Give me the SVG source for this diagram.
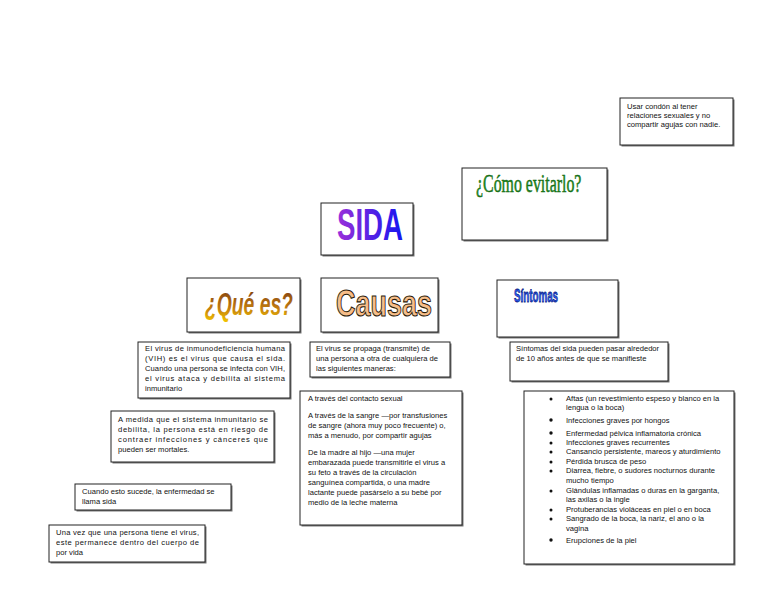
<svg xmlns="http://www.w3.org/2000/svg" width="768" height="594" viewBox="0 0 768 594">
<defs>
<linearGradient id="gSida" x1="0" y1="0" x2="1" y2="0"><stop offset="0" stop-color="#9b30d9"/><stop offset="1" stop-color="#1515f0"/></linearGradient>
<linearGradient id="gQue" x1="0" y1="0" x2="0" y2="1"><stop offset="0" stop-color="#7a3a10"/><stop offset="0.6" stop-color="#c07a10"/><stop offset="1" stop-color="#f0c000"/></linearGradient>
</defs>
<style>
.box{fill:#fff;stroke:#222;stroke-width:1}
.sh{fill:#777}
.t{font-family:"Liberation Sans",Arial,sans-serif;font-size:7.6px;fill:#111}
</style>
<rect width="768" height="594" fill="#fff"/>
<g id="connectors"/>
<g id="evitar-texto">
<rect class="sh" x="621.5" y="99.5" width="113" height="47"/>
<rect class="box" x="620" y="98" width="113" height="47"/>
<text class="t" x="627" y="109">Usar condón al tener</text>
<text class="t" x="627" y="118">relaciones sexuales y no</text>
<text class="t" x="627" y="127">compartir agujas con nadie.</text>
</g>
<g id="como-evitarlo">
<rect class="sh" x="463.5" y="169.5" width="145" height="72"/>
<rect class="box" x="462" y="168" width="145" height="72"/>
<text transform="translate(476,192) scale(1,1.57)" font-family="Liberation Serif,serif" font-size="15.9" fill="#1a8c1a" stroke="#0d5a0d" stroke-width="0.3">¿Cómo evitarlo?</text>
</g>
<g id="sida">
<rect class="sh" x="322.5" y="204.5" width="92" height="52"/>
<rect class="box" x="321" y="203" width="92" height="52"/>
<text transform="translate(337,240) scale(1,1.6)" font-family="Liberation Sans,sans-serif" font-weight="bold" font-size="27.6" fill="url(#gSida)">SIDA</text>
</g>
<g id="que-es">
<rect class="sh" x="188.5" y="279.5" width="113" height="54"/>
<rect class="box" x="187" y="278" width="113" height="54"/>
<text transform="translate(205,315) scale(1,1.6)" font-family="Liberation Sans,sans-serif" font-weight="bold" font-style="italic" font-size="19.3" fill="url(#gQue)">¿Qué es?</text>
</g>
<g id="causas">
<rect class="sh" x="322.5" y="279.5" width="117" height="54"/>
<rect class="box" x="321" y="278" width="117" height="54"/>
<text transform="translate(336,316) scale(1,1.37)" font-family="Liberation Sans,sans-serif" font-weight="bold" font-size="27" fill="#f7bd88" stroke="#2a1a0a" stroke-width="0.8">Causas</text>
</g>
<g id="sintomas">
<rect class="sh" x="498.5" y="281.5" width="121" height="57"/>
<rect class="box" x="497" y="280" width="121" height="57"/>
<text transform="translate(514,302) scale(1,1.9)" font-family="Liberation Sans,sans-serif" font-weight="bold" font-size="9.8" fill="#2a5cf0" stroke="#0a1a80" stroke-width="0.4">Síntomas</text>
</g>
<g id="vih">
<rect class="sh" x="139.5" y="343.5" width="152" height="56"/>
<rect class="box" x="138" y="342" width="152" height="56"/>
<text class="t" x="145" y="351" textLength="140" lengthAdjust="spacing">El virus de inmunodeficiencia humana</text>
<text class="t" x="145" y="361" textLength="140" lengthAdjust="spacing">(VIH) es el virus que causa el sida.</text>
<text class="t" x="145" y="371" textLength="140" lengthAdjust="spacing">Cuando una persona se infecta con VIH,</text>
<text class="t" x="145" y="381" textLength="140" lengthAdjust="spacing">el virus ataca y debilita al sistema</text>
<text class="t" x="145" y="391">inmunitario</text>
</g>
<g id="propaga">
<rect class="sh" x="311.5" y="343.5" width="140" height="35"/>
<rect class="box" x="310" y="342" width="140" height="35"/>
<text class="t" x="316" y="351">El virus se propaga (transmite) de</text>
<text class="t" x="316" y="361">una persona a otra de cualquiera de</text>
<text class="t" x="316" y="371">las siguientes maneras:</text>
</g>
<g id="sintomas-texto">
<rect class="sh" x="511.5" y="343.5" width="158" height="39"/>
<rect class="box" x="510" y="342" width="158" height="39"/>
<text class="t" x="516" y="351">Síntomas del sida pueden pasar alrededor</text>
<text class="t" x="516" y="361">de 10 años antes de que se manifieste</text>
</g>
<g id="a-medida">
<rect class="sh" x="112.5" y="412.5" width="163" height="51"/>
<rect class="box" x="111" y="411" width="163" height="51"/>
<text class="t" x="118" y="422" textLength="150" lengthAdjust="spacing">A medida que el sistema inmunitario se</text>
<text class="t" x="118" y="432" textLength="150" lengthAdjust="spacing">debilita, la persona está en riesgo de</text>
<text class="t" x="118" y="442" textLength="150" lengthAdjust="spacing">contraer infecciones y cánceres que</text>
<text class="t" x="118" y="452">pueden ser mortales.</text>
</g>
<g id="cuando-sucede">
<rect class="sh" x="76.5" y="485.5" width="156" height="26"/>
<rect class="box" x="75" y="484" width="156" height="26"/>
<text class="t" x="82" y="494">Cuando esto sucede, la enfermedad se</text>
<text class="t" x="82" y="504">llama sida</text>
</g>
<g id="una-vez">
<rect class="sh" x="50.5" y="526.5" width="156" height="37"/>
<rect class="box" x="49" y="525" width="156" height="37"/>
<text class="t" x="56" y="535" textLength="143" lengthAdjust="spacing">Una vez que una persona tiene el virus,</text>
<text class="t" x="56" y="545" textLength="143" lengthAdjust="spacing">este permanece dentro del cuerpo de</text>
<text class="t" x="56" y="555">por vida</text>
</g>
<g id="a-traves">
<rect class="sh" x="301.5" y="392.5" width="162" height="134"/>
<rect class="box" x="300" y="391" width="162" height="134"/>
<text class="t" x="308" y="401">A través del contacto sexual</text>
<text class="t" x="308" y="418">A través de la sangre —por transfusiones</text>
<text class="t" x="308" y="428">de sangre (ahora muy poco frecuente) o,</text>
<text class="t" x="308" y="438">más a menudo, por compartir agujas</text>
<text class="t" x="308" y="455">De la madre al hijo —una mujer</text>
<text class="t" x="308" y="465">embarazada puede transmitirle el virus a</text>
<text class="t" x="308" y="475">su feto a través de la circulación</text>
<text class="t" x="308" y="485">sanguínea compartida, o una madre</text>
<text class="t" x="308" y="495">lactante puede pasárselo a su bebé por</text>
<text class="t" x="308" y="505">medio de la leche materna</text>
</g>
<g id="lista-sintomas">
<rect class="sh" x="525.5" y="392.5" width="210" height="173"/>
<rect class="box" x="524" y="391" width="210" height="173"/>
<g class="t">
<circle cx="551" cy="399" r="1.5"/><text class="t" x="566" y="401">Aftas (un revestimiento espeso y blanco en la</text>
<text class="t" x="566" y="410">lengua o la boca)</text>
<circle cx="551" cy="420" r="1.7"/><text class="t" x="566" y="423">Infecciones graves por hongos</text>
<circle cx="551" cy="433" r="1.7"/><text class="t" x="566" y="436">Enfermedad pélvica inflamatoria crónica</text>
<circle cx="551" cy="443" r="1.5"/><text class="t" x="566" y="445">Infecciones graves recurrentes</text>
<circle cx="551" cy="452" r="1.5"/><text class="t" x="566" y="454">Cansancio persistente, mareos y aturdimiento</text>
<circle cx="551" cy="462" r="1.5"/><text class="t" x="566" y="464">Pérdida brusca de peso</text>
<circle cx="551" cy="471" r="1.5"/><text class="t" x="566" y="473">Diarrea, fiebre, o sudores nocturnos durante</text>
<text class="t" x="566" y="483">mucho tiempo</text>
<circle cx="551" cy="491" r="1.5"/><text class="t" x="566" y="493">Glándulas inflamadas o duras en la garganta,</text>
<text class="t" x="566" y="502">las axilas o la ingle</text>
<circle cx="551" cy="510" r="1.5"/><text class="t" x="566" y="512">Protuberancias violáceas en piel o en boca</text>
<circle cx="551" cy="519" r="1.5"/><text class="t" x="566" y="521">Sangrado de la boca, la nariz, el ano o la</text>
<text class="t" x="566" y="531">vagina</text>
<circle cx="551" cy="540" r="1.7"/><text class="t" x="566" y="543">Erupciones de la piel</text>
</g>
</g>
</svg>
